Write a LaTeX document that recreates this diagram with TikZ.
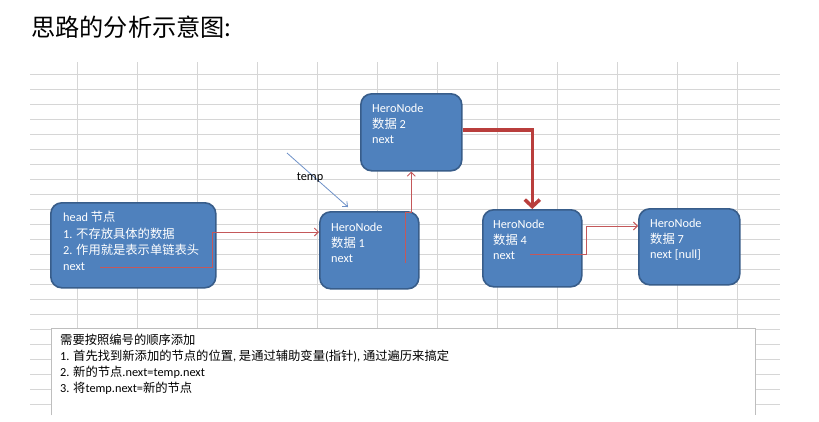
\documentclass[tikz,border=0pt]{standalone}
\usepackage{fontspec}
\setmainfont{Carlito}
\newfontfamily\cjk{Noto Sans CJK SC}
\usetikzlibrary{arrows.meta}
\definecolor{gridc}{RGB}{214,214,214}
\definecolor{nodefill}{RGB}{79,129,189}
\definecolor{nodeedge}{RGB}{56,93,138}
\definecolor{linkred}{RGB}{196,88,90}
\definecolor{thickred}{RGB}{185,62,60}
\definecolor{tempblue}{RGB}{110,145,200}
\definecolor{noteedge}{RGB}{190,190,190}
\begin{document}
\begin{tikzpicture}[x=1pt,y=-1pt,
  gridline/.style={draw=gridc, line width=0.7pt},
  hbox/.style={draw=nodeedge, fill=nodefill, line width=1.6pt, rounded corners=11pt,
    anchor=north west, inner sep=0pt},
  htext/.style={anchor=north west, inner sep=0pt, align=left, text=white,
    font=\fontsize{12.3}{15.5}\selectfont},
  link/.style={draw=linkred, line width=0.9pt, -{Straight Barb[length=4pt,width=8pt]}},
  thicklink/.style={draw=thickred, line width=3.5pt, -{Straight Barb[length=7pt,width=15pt]}},
]
\useasboundingbox (0,0) rectangle (819,421);
\fill[white] (0,0) rectangle (819,421);

% title
\node[anchor=west, inner sep=0pt, font=\cjk\fontsize{24.2}{29}\selectfont] (title) at (31,27) {思路的分析示意图:};

% grid
\foreach \x in {77,137,...,737} \draw[gridline] (\x,62) -- (\x,328);
\foreach \y in {74,89,...,404} \draw[gridline] (30,\y) -- (780,\y);

% boxes
\node[hbox, minimum width=165pt, minimum height=85pt] (head) at (50,202) {};
\node[hbox, minimum width=101pt, minimum height=77pt] (n2) at (360,93) {};
\node[hbox, minimum width=99pt, minimum height=77pt] (n1) at (319,211) {};
\node[hbox, minimum width=99pt, minimum height=77pt] (n4) at (482,209) {};
\node[hbox, minimum width=101pt, minimum height=76pt] (n7) at (638,208) {};

% box texts
\node[htext, font=\fontsize{12.3}{16.3}\selectfont] (headtxt) at (63,210.5)
  {\rule{0pt}{11pt}head {\cjk 节点}\\1. {\cjk 不存放具体的数据}\\2. {\cjk 作用就是表示单链表头}\\next};
\node[htext] (n2txt) at (372,101.3) {\rule{0pt}{11pt}HeroNode\\{\cjk 数据} 2\\next};
\node[htext] (n1txt) at (331,220.3) {\rule{0pt}{11pt}HeroNode\\{\cjk 数据} 1\\next};
\node[htext] (n4txt) at (493,217.3) {\rule{0pt}{11pt}HeroNode\\{\cjk 数据} 4\\next};
\node[htext] (n7txt) at (650,216.3) {\rule{0pt}{11pt}HeroNode\\{\cjk 数据} 7\\next [null]};

% connector anchors
\coordinate (headnext) at (100,267);
\coordinate (n1next) at (405,263);
\coordinate (n4next) at (530,254);
\coordinate (tempstart) at (287,153);
\coordinate (tempend) at (348,207);

% connectors
\draw[link] (headnext) -- (212,267) -- (212,232) -- (n1.west |- 0,232);
\draw[link] (n1next) -- (405,212) -- (n2.south |- 0,212) -- (n2.south);
\draw[thicklink] (n2.east |- 0,130) -| (n4.north);
\draw[link] (n4next) -- (586,254) -- (586,226) -- (n7.west |- 0,226);
\draw[draw=tempblue, line width=0.8pt, -{Straight Barb[length=4pt,width=7pt]}] (tempstart) -- (tempend);
\node[inner sep=0pt, font=\fontsize{12.3}{15}\selectfont] (templabel) at (310,178) {temp};

% note box
\node[anchor=north west, fill=white, inner sep=0pt, minimum width=704pt, minimum height=87pt] (note) at (51,328) {};
\draw[draw=noteedge, line width=0.8pt] (note.south west) -- (note.north west) -- (note.north east) -- (note.south east);
\node[anchor=north west, inner sep=0pt, align=left, font=\fontsize{12.3}{16}\selectfont] (notetxt) at (60,333.3)
  {\rule{0pt}{11pt}{\cjk 需要按照编号的顺序添加}\\
   1. {\cjk 首先找到新添加的节点的位置}, {\cjk 是通过辅助变量}({\cjk 指针}), {\cjk 通过遍历来搞定}\\
   2. {\cjk 新的节点}.next=temp.next\\
   3. {\cjk 将}temp.next={\cjk 新的节点}};
\end{tikzpicture}
\end{document}
